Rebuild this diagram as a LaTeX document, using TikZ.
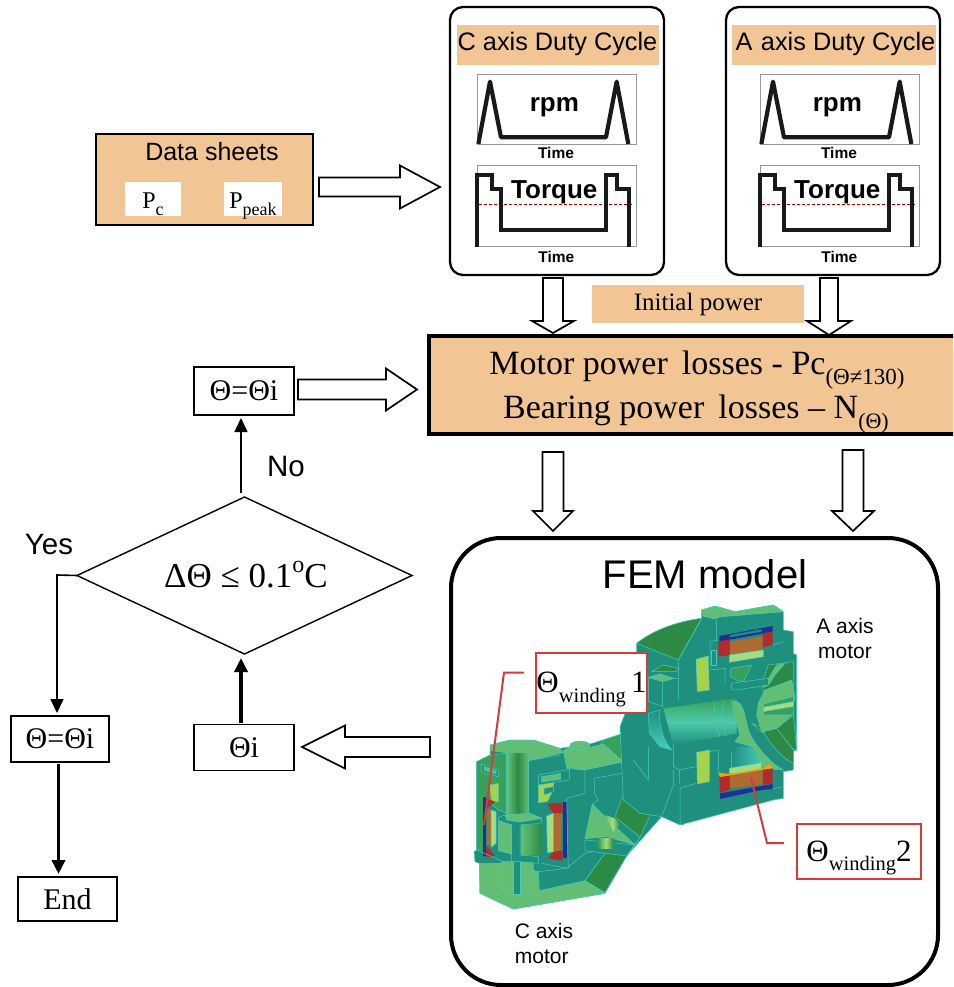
\documentclass[tikz,border=0pt]{standalone}
\usepackage{fontspec}
\setmainfont{Liberation Serif}
\setsansfont{Liberation Sans}
\usetikzlibrary{shapes.geometric,arrows.meta}
\definecolor{peach}{HTML}{F2C594}
\definecolor{teal1}{HTML}{1F8F7E}
\definecolor{dgreen}{HTML}{2C8A45}
\definecolor{mgreen}{HTML}{37A05A}
\definecolor{lgreen}{HTML}{62BE74}
\definecolor{edgec}{HTML}{45CFC0}
\definecolor{wred}{HTML}{B02C2C}
\definecolor{wbrown}{HTML}{AE6A30}
\definecolor{wblue}{HTML}{1E2F96}
\definecolor{lime}{HTML}{A6D34A}
\definecolor{pale}{HTML}{A5DC80}
\definecolor{redbox}{HTML}{D63A3A}
\tikzset{
  every node/.style={outer sep=0pt},
  blockarrow/.style={draw=black,fill=white,line width=1.7pt,line join=miter},
  panel/.style={draw=black,fill=white,line width=2.3pt,rounded corners=13pt},
  plotframe/.style={draw=black!40,line width=.5pt},
  curve/.style={draw=black!90,line width=4.2pt,line join=round},
  flowbox/.style={draw=black,fill=white,line width=1.6pt,inner sep=0pt,font=\fontsize{30}{30}\selectfont},
  redlabel/.style={draw=redbox,fill=white,line width=2pt,inner sep=0pt},
  leader/.style={draw=redbox,line width=2pt},
  sheetbox/.style={fill=white,inner sep=0pt,minimum height=34pt},
  part/.style={draw=edgec,line width=.5pt,line join=round},
  seam/.style={draw=edgec,line width=.5pt},
  flowarrow/.style={draw=black,line width=1.6pt,shorten >=3pt,shorten <=2pt,-{Triangle[length=14pt,width=13pt]}},
  thickarrow/.style={flowarrow,line width=3.5pt,-{Triangle[length=14pt,width=13pt]}},
  stext/.style={font=\sffamily\fontsize{29.5}{29.5}\selectfont,inner sep=0pt},
  timelabel/.style={font=\sffamily\bfseries\fontsize{15.5}{15.5}\selectfont},
}
\newcommand{\dnarrow}[6]{% x, top, base, tip, half shaft, half head
  \path[blockarrow] ({#1-#5},#2) -- ({#1+#5},#2) -- ({#1+#5},#3) -- ({#1+#6},#3) -- (#1,#4) -- ({#1-#6},#3) -- ({#1-#5},#3) -- cycle;}
\newcommand{\harrow}[6]{% y, start, base, tip, half shaft, half head
  \path[blockarrow] (#2,{#1-#5}) -- (#2,{#1+#5}) -- (#3,{#1+#5}) -- (#3,{#1+#6}) -- (#4,#1) -- (#3,{#1-#6}) -- (#3,{#1-#5}) -- cycle;}
\newcommand{\lowsub}[2]{\raisebox{-.3em}[0pt][0pt]{\fontsize{#1}{#1}\selectfont #2}}
\newcommand{\dutypanel}[6]{% name, panel shift, content shift, title centre, title width, title
  \node[panel,minimum width=214pt,minimum height=268pt] (#1panel) at (557+#2,141) {};
  \node[fill=peach,minimum width=#5pt,minimum height=40pt,inner sep=0pt] (#1title) at (#4,45) {};
  \begin{scope}[shift={(440+#3,0)},x=.3333pt,y=-.3333pt]
    \draw[plotframe] (112,223) rectangle (590,433);
    \draw[curve] (115,432) -- (150,245) -- (183,412) -- (498,412) -- (530,245) -- (565,432);
    \node[font=\sffamily\bfseries\fontsize{26}{26}\selectfont] (#1rpm) at (343,322) {rpm};
    \node[timelabel] (#1tone) at (348,460) {Time};
    \draw[plotframe] (112,497) -- (590,497) -- (590,740) -- (112,740) -- cycle;
    \draw[red!65!black,densely dashed,line width=1pt] (118,614) -- (580,614);
    \draw[curve,line join=miter] (112,740) -- (112,525) -- (155,525) -- (155,568) -- (182,568) -- (182,690) -- (498,690) -- (498,525) -- (530,525) -- (530,568) -- (566,568) -- (566,740);
    \node[font=\sffamily\bfseries\fontsize{26}{26}\selectfont] (#1torque) at (343,576) {Torque};
    \node[timelabel] (#1ttwo) at (349,772) {Time};
  \end{scope}
}
\begin{document}
\begin{tikzpicture}[x=1pt,y=-1pt]
\useasboundingbox (0,0) rectangle (953,987);
\clip (0,0) rectangle (953,987);
\fill[white] (0,0) rectangle (953,987);

% Data sheets
\node[draw=black,fill=peach,line width=2.4pt,minimum width=217pt,minimum height=91pt,inner sep=0pt] (sheets) at (204.5,179.5) {};
\node[font=\sffamily\fontsize{25}{25}\selectfont,inner sep=0pt] (sheetstitle) at (212,152) {Data sheets};
\node[sheetbox,minimum width=56pt] (pc) at (153,199) {};
\node[sheetbox,minimum width=58pt] (ppeak) at (253,199) {};
\node[anchor=base,inner sep=0pt,font=\fontsize{24}{24}\selectfont] (pctext) at (153,208) {P\lowsub{18}{c}};
\node[anchor=base,inner sep=0pt,font=\fontsize{24}{24}\selectfont] (ppeaktext) at (253,208) {P\lowsub{18}{peak}};
\harrow{187}{319}{400}{440}{9.5}{21.5}

% Duty cycle panels
\dutypanel{c}{0}{0}{558}{202}{C axis Duty Cycle}
\dutypanel{a}{276}{283}{834}{204}{A axis Duty Cycle}
\node[font=\sffamily\fontsize{25.3}{25.3}\selectfont,inner sep=0pt] (ctitletext) at (557.5,44) {C axis Duty Cycle};
\node[font=\sffamily\fontsize{25.3}{25.3}\selectfont,inner sep=0pt] (atitletext) at (835.5,44) {A\,\,axis Duty Cycle};

% Initial power
\node[fill=peach,minimum width=212pt,minimum height=38pt,inner sep=0pt,font=\fontsize{25}{25}\selectfont] (initial) at (698,304) {Initial power};
\dnarrow{553}{278}{321}{333}{10}{21}
\dnarrow{829}{278}{321}{335}{9}{22}

% Losses
\node[draw=black,fill=peach,line width=4pt,minimum width=540pt,minimum height=98pt,inner sep=0pt,anchor=north west] (losses) at (429,336) {};
\node[font=\fontsize{34}{34}\selectfont,inner sep=0pt,anchor=base] (lossa) at (697,374) {Motor power\, losses - Pc\lowsub{23}{(Θ≠130)}};
\node[font=\fontsize{34}{34}\selectfont,inner sep=0pt,anchor=base] (lossb) at (696,418) {Bearing power\, losses – N\lowsub{22}{(Θ)}};
\dnarrow{553}{452}{511}{531}{10.5}{20}
\dnarrow{853}{450}{511}{531}{10.5}{21}

% FEM panel
\node[draw=black,fill=white,line width=4pt,rounded corners=50pt,minimum width=487pt,minimum height=447pt,anchor=north west] (fem) at (451,538) {};
\node[font=\sffamily\fontsize{40}{40}\selectfont,inner sep=0pt] (femtitle) at (705,574) {FEM model};

% ---------- C axis motor and neck, in coordinates of a 3x crop
\begin{scope}[shift={(470,730)},x=.3333pt,y=-.3333pt]
  \path[part,fill=teal1] (30,490) -- (130,537) -- (405,490) -- (470,378) -- (575,260) -- (640,285) -- (640,0) -- (460,0) -- (460,10) -- (360,42) -- (330,35) -- (300,50) -- (270,55) -- (190,30) -- (120,30) -- (60,45) -- (60,75) -- (20,95) -- (20,360) -- (12,365) -- (15,395) -- (28,400) -- cycle;
  % neck
  \path[part,fill=mgreen] (345,115) -- (460,95) -- (520,15) -- (530,0) -- (460,0) -- (460,10) -- (400,30) -- cycle;
  \path[part,fill=dgreen] (485,125) -- (582,165) -- (510,322) -- (435,260) -- cycle;
  \path[part,fill=dgreen] (415,355) -- (470,378) -- (405,488) -- (345,452) -- cycle;
  % top surfaces
  \path[part,fill=lgreen] (60,45) -- (120,30) -- (190,30) -- (270,55) -- (278,68) -- (175,92) -- (110,68) -- (60,62) -- cycle;
  \path[part,fill=lgreen] (280,62) -- (300,50) -- (330,60) -- (400,42) -- (460,95) -- (345,120) -- (290,112) -- cycle;
  \path[part,fill=lgreen] (330,46) ellipse [x radius=30,y radius=13];
  \path[part,fill=mgreen] (20,95) -- (60,75) -- (110,70) -- (110,250) -- (85,240) -- (40,200) -- (40,360) -- (20,360) -- cycle;
  % base
  \path[part,fill=lgreen] (30,490) -- (130,537) -- (405,490) -- (345,452) -- (212,482) -- (205,425) -- (100,400) -- (28,400) -- cycle;
  \path[part,fill=teal1] (208,482) -- (345,452) -- (415,355) -- (345,370) -- (290,415) -- (205,425) -- cycle;
  % central cylinder
  \shade[left color=lgreen,right color=lgreen,middle color=dgreen] (112,70) rectangle (175,252);
  \path[part,fill=lgreen] (95,395) -- (190,395) -- (190,478) -- (175,490) -- (110,490) -- (95,475) -- cycle;
  \path[part,fill=teal1] (130,390) rectangle (150,492);
  % cross member
  \path[part,fill=teal1] (85,262) -- (105,255) -- (215,265) -- (215,280) -- (150,285) -- (150,375) -- (205,380) -- (205,400) -- (150,395) -- (125,395) -- (125,285) -- (85,272) -- cycle;
  \path[part,fill=lgreen] (105,255) -- (180,250) -- (215,265) -- (150,276) -- (110,270) -- cycle;
  \shade[left color=lgreen,right color=dgreen] (155,285) -- (215,280) -- (215,375) -- (155,375) -- cycle;
  \path[part,fill=lgreen] (85,272) -- (125,285) -- (125,372) -- (85,362) -- cycle;
  % small slots and lime parts
  \path[part,fill=lime] (58,165) -- (85,160) -- (85,215) -- (65,215) -- cycle;
  \path[part,fill=lime] (205,165) -- (250,155) -- (250,178) -- (232,215) -- (205,218) -- cycle;
  \path[part,fill=teal1] (222,175) -- (250,170) -- (250,185) -- (222,195) -- cycle;
  \path[part,fill=teal1] (205,135) -- (298,118) -- (298,150) -- (205,165) -- cycle;
  \path[part,fill=lgreen] (215,140) -- (272,130) -- (272,148) -- (215,156) -- cycle;
  \path[part,fill=teal1] (35,102) -- (85,120) -- (85,140) -- (35,125) -- cycle;
  \path[part,fill=lgreen] (42,110) -- (78,122) -- (78,132) -- (42,120) -- cycle;
  % left winding
  \fill[wblue] (40,200) rectangle (47,378);
  \fill[wred] (47,205) -- (76,215) -- (50,235) -- cycle;
  \fill[wred] (47,345) -- (75,378) -- (47,382) -- cycle;
  \fill[wbrown] (50,238) rectangle (63,346);
  \path[part,fill=pale] (63,240) -- (78,245) -- (78,340) -- (63,352) -- cycle;
  % right winding
  \fill[wblue] (278,215) rectangle (292,385);
  \fill[wred] (232,222) -- (250,220) -- (278,218) -- (278,250) -- (250,250) -- cycle;
  \fill[wred] (250,365) -- (278,362) -- (278,392) -- (235,385) -- cycle;
  \fill[wbrown] (250,250) -- (276,250) -- (273,362) -- (250,365) -- cycle;
  \path[part,fill=pale] (230,258) -- (250,250) -- (250,365) -- (232,368) -- cycle;
  % cone
  \path[part,fill=teal1] (345,330) -- (495,345) -- (470,378) -- (345,362) -- cycle;
  \path[part,fill=lgreen] (367,222) -- (410,265) -- (495,345) -- (410,320) -- (345,326) -- cycle;
  \shade[left color=mgreen,right color=dgreen,middle color=pale] (385,326) rectangle (430,356);
  \shade[left color=lgreen,right color=dgreen,middle color=pale] (405,255) -- (435,265) -- (450,285) -- (430,305) -- cycle;
  % seams
  \draw[seam] (110,68) -- (110,252) (175,92) -- (175,252) (175,92) -- (270,75) (290,112) -- (290,115) -- (345,120) -- (345,190) -- (290,205) -- (295,415) (372,145) -- (485,125) (372,145) -- (375,195) -- (385,210) -- (367,222) (510,322) -- (470,378) (215,400) -- (290,415) (582,165) -- (640,285) (20,360) -- (100,395);
\end{scope}

% ---------- A axis motor, in coordinates of a 3x crop
\begin{scope}[shift={(620,600)},x=.3333pt,y=-.3333pt]
  \path[part,fill=teal1] (50,130) .. controls (100,90) and (170,65) .. (245,55) -- (245,30) -- (285,18) -- (345,35) -- (460,15) -- (490,35) -- (490,90) -- (520,95) -- (520,160) -- (530,165) -- (530,450) -- (520,455) -- (520,510) -- (490,515) -- (490,595) -- (460,600) -- (180,675) -- (125,650) -- (60,640) -- (10,600) -- (0,380) -- (50,250) -- cycle;
  \path[part,fill=dgreen] (50,130) .. controls (100,90) and (170,65) .. (245,55) -- (175,180) -- cycle;
  \path[part,fill=lgreen] (245,30) -- (285,18) -- (345,35) -- (460,15) -- (490,35) -- (345,47) -- (300,50) -- (285,57) -- (245,47) -- cycle;
  % neck block left of the shaft
  \path[part,fill=dgreen] (95,215) -- (130,195) -- (178,205) -- (165,215) -- cycle;
  \path[part,fill=lgreen] (85,232) -- (120,222) -- (162,235) -- (128,245) -- cycle;
  \draw[seam] (85,232) -- (85,305) -- (130,320) (128,245) -- (128,318) (162,235) -- (175,235) -- (175,300);
  % upper winding
  \fill[wblue] (298,108) -- (458,78) -- (458,95) -- (298,125) -- cycle;
  \fill[teal1] (330,105) -- (425,88) -- (425,95) -- (330,112) -- cycle;
  \fill[wred] (295,125) -- (330,118) -- (330,165) -- (295,170) -- cycle;
  \fill[wred] (428,100) -- (458,95) -- (458,135) -- (428,142) -- cycle;
  \fill[wbrown] (330,125) -- (428,108) -- (428,150) -- (330,163) -- cycle;
  \path[part,fill=pale] (328,165) -- (430,150) -- (430,170) -- (328,187) -- cycle;
  \draw[seam] (270,125) -- (270,210) -- (315,205) -- (315,250) (270,125) -- (295,120) (458,135) -- (490,125);
  \path[part,fill=teal1] (275,150) rectangle (288,197);
  % lime bearings
  \path[part,fill=lime] (228,178) -- (265,168) -- (268,270) -- (232,275) -- cycle;
  \path[part,fill=lime] (230,457) -- (268,450) -- (268,545) -- (232,552) -- cycle;
  % inner right, upper
  \path[part,fill=mgreen] (332,205) -- (395,195) -- (370,245) -- (350,240) -- (332,230) -- cycle;
  \path[part,fill=dgreen] (425,250) -- (445,195) -- (520,185) -- (520,290) -- (435,295) -- cycle;
  \path[part,fill=lgreen] (470,195) -- (495,190) -- (465,225) -- (445,255) -- (430,262) -- cycle;
  \path[part,fill=teal1] (335,250) -- (445,235) -- (445,255) -- (350,270) -- (335,270) -- cycle;
  % shaft
  \shade[top color=mgreen,bottom color=teal1,middle color=edgec!70!lgreen] (130,325) -- (350,295) -- (350,400) -- (160,435) -- cycle;
  \path[left color=teal1,right color=edgec,shading angle=0,draw=edgec,line width=.5pt] (85,340) -- (120,330) .. controls (115,380) and (130,420) .. (155,450) -- (120,440) -- (88,400) -- cycle;
  \draw[seam] (285,305) .. controls (280,350) and (290,390) .. (300,410) (310,300) .. controls (305,350) and (312,380) .. (320,410);
  % cone to the right
  \path[part,fill=lgreen] (335,305) .. controls (365,295) and (372,330) .. (385,390) .. controls (400,430) and (450,490) .. (490,510) -- (430,505) -- (395,440) -- (345,425) -- (360,405) -- (350,370) -- cycle;
  \shade[left color=teal1,right color=edgec] (350,440) -- (395,440) -- (430,490) -- (335,505) -- (335,455) -- cycle;
  % hub
  \path[part,fill=dgreen] (395,370) -- (430,400) -- (470,385) -- (520,345) -- (530,450) -- (490,435) -- (430,385) -- cycle;
  \path[part,fill=dgreen] (430,395) .. controls (450,430) and (480,470) .. (520,490) -- (520,450) -- (470,385) -- cycle;
  \path[part,fill=lgreen] (435,270) -- (515,240) -- (525,290) -- (515,345) -- (470,385) -- (425,395) -- (410,345) -- (415,310) -- cycle;
  \path[part,fill=mgreen] (430,312) -- (520,290) -- (520,305) -- (430,322) -- cycle;
  \path[part,fill=pale] (430,322) -- (520,305) -- (520,320) -- (430,335) -- cycle;
  \path[part,fill=mgreen] (430,335) -- (520,320) -- (520,345) -- (430,345) -- cycle;
  % lower winding
  \path[part,fill=pale] (328,505) -- (425,488) -- (425,508) -- (328,522) -- cycle;
  \fill[orange!75!yellow] (295,518) -- (330,522) -- (430,505) -- (448,492) -- (458,505) -- (300,532) -- cycle;
  \fill[wred] (298,532) -- (330,527) -- (330,570) -- (300,578) -- cycle;
  \fill[wred] (428,510) -- (458,505) -- (458,550) -- (428,555) -- cycle;
  \fill[wbrown] (330,527) -- (428,510) -- (428,553) -- (330,565) -- cycle;
  \fill[wblue] (300,580) -- (458,552) -- (458,567) -- (425,570) -- (300,597) -- cycle;
  % seams
  \draw[seam] (175,180) -- (175,235) (175,180) -- (245,55) (290,60) -- (290,120) (160,435) -- (160,500) -- (178,510) -- (178,550) (178,510) -- (228,500) (270,455) -- (295,450) -- (295,520) (335,505) -- (335,455) (458,567) -- (490,560) (180,675) -- (180,565) -- (228,550) (125,650) -- (160,555) -- (160,510) (85,440) -- (85,540) -- (40,480);
\end{scope}

\node[font=\sffamily\fontsize{21}{25}\selectfont,align=center,inner sep=0pt] (amotor) at (845,638) {A axis\\ motor};
\node[font=\sffamily\fontsize{21}{25}\selectfont,align=left,inner sep=0pt] (cmotor) at (544,943) {C axis\\motor};

% winding labels
\node[redlabel,minimum width=110pt,minimum height=60pt] (wone) at (591.5,682.7) {\fontsize{31}{31}\selectfont Θ\lowsub{20.5}{winding}\,1};
\node[redlabel,minimum width=124.6pt,minimum height=55pt] (wtwo) at (859,851) {\fontsize{31}{31}\selectfont Θ\lowsub{20.5}{winding}2};
\coordinate (wonea) at (524,672.5);
\coordinate (woneb) at (504,672.5);
\coordinate (wonec) at (484,825);
\coordinate (wtwoa) at (784,843);
\coordinate (wtwob) at (767,843);
\coordinate (wtwoc) at (751,778);
\draw[leader] (wonea) -- (woneb) -- (wonec);
\draw[leader] (wtwoa) -- (wtwob) -- (wtwoc);

% flow on the left
\node[flowbox,minimum width=100pt,minimum height=48pt] (thetaa) at (244,391) {Θ=Θi};
\harrow{389.5}{298}{386}{417}{10}{21}
\node[draw=black,line width=1.4pt,diamond,aspect=2.13,inner sep=0pt,minimum width=335pt,minimum height=157pt] (test) at (244.5,575.5) {};
\node[font=\fontsize{35}{35}\selectfont,inner sep=0pt] (testtext) at (246,576) {ΔΘ ≤ 0.1\raisebox{.42em}[0pt][0pt]{\fontsize{24}{24}\selectfont o}C};
\coordinate (testtop) at (241,495);
\coordinate (testbot) at (241,655);
\draw[flowarrow] (testtop) -- (thetaa.south -| testtop);
\node[stext] (no) at (286,466) {No};
\node[stext] (yes) at (49,544) {Yes};
\node[flowbox,minimum width=100pt,minimum height=46pt] (thetab) at (244,747.5) {Θi};
\draw[thickarrow] (thetab.north -| testbot) -- (testbot);
\harrow{747}{430}{345}{302}{10}{21.5}
\node[flowbox,minimum width=98pt,minimum height=46pt] (thetac) at (60,739) {Θ=Θi};
\coordinate (yesturn) at (57,575);
\draw[flowarrow,shorten <=0pt] (test.west) -- (yesturn) -- (thetac.north -| yesturn);
\node[flowbox,minimum width=99pt,minimum height=44pt] (endbox) at (67.5,899) {End};
\coordinate (endturn) at (58.5,800);
\draw[thickarrow] (thetac.south -| endturn) -- (endbox.north -| endturn);
\end{tikzpicture}
\end{document}
